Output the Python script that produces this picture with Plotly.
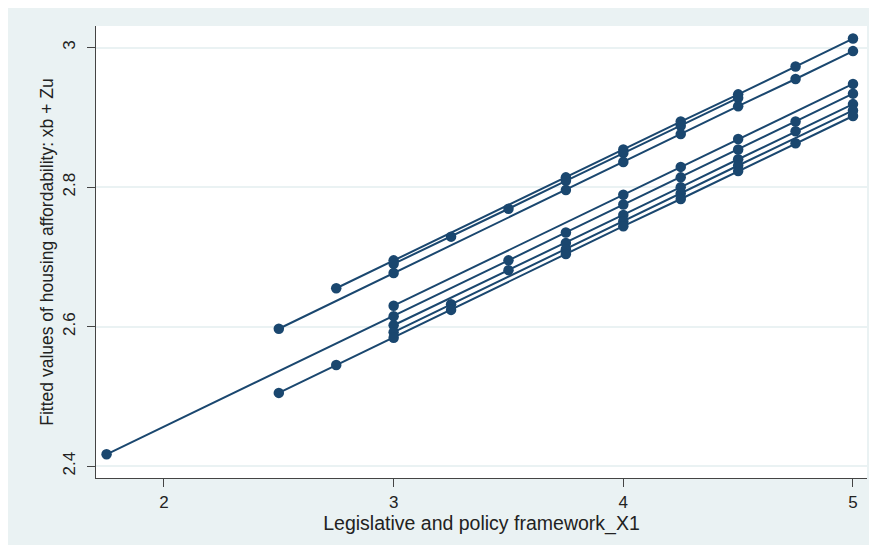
import plotly.graph_objects as go

# Fitted values per group (x = Legislative and policy framework_X1)
grp_a_x = [2.75, 3, 3.75, 4, 4.25, 4.5, 4.75, 5]
grp_a_y = [2.655, 2.695, 2.814, 2.854, 2.894, 2.933, 2.973, 3.013]

grp_b_x = [3, 3.25, 3.5, 3.75, 4, 4.25, 4.5]
grp_b_y = [2.690, 2.729, 2.769, 2.809, 2.849, 2.888, 2.928]

grp_c_x = [2.5, 3, 3.75, 4, 4.25, 4.5, 4.75, 5]
grp_c_y = [2.597, 2.677, 2.796, 2.836, 2.876, 2.916, 2.955, 2.995]

grp_d_x = [1.75, 3, 3.5, 3.75, 4, 4.25, 4.5, 4.75, 5]
grp_d_y = [2.417, 2.615, 2.695, 2.735, 2.775, 2.814, 2.854, 2.894, 2.934]

grp_e_x = [3, 4, 4.25, 4.5, 5]
grp_e_y = [2.630, 2.789, 2.829, 2.869, 2.948]

grp_f_x = [3, 3.5, 3.75, 4, 4.25, 4.5, 4.75, 5]
grp_f_y = [2.602, 2.681, 2.720, 2.760, 2.800, 2.840, 2.880, 2.919]

grp_g_x = [3, 3.25, 3.75, 4, 4.25, 4.5, 5]
grp_g_y = [2.592, 2.632, 2.711, 2.751, 2.791, 2.831, 2.910]

grp_h_x = [2.5, 2.75, 3, 3.25, 3.75, 4, 4.25, 4.5, 4.75, 5]
grp_h_y = [2.505, 2.545, 2.584, 2.624, 2.704, 2.744, 2.783, 2.823, 2.863, 2.902]

groups = [
    (grp_a_x, grp_a_y), (grp_b_x, grp_b_y), (grp_c_x, grp_c_y),
    (grp_d_x, grp_d_y), (grp_e_x, grp_e_y), (grp_f_x, grp_f_y),
    (grp_g_x, grp_g_y), (grp_h_x, grp_h_y),
]

x_ticks = [2, 3, 4, 5]
y_ticks = [2.4, 2.6, 2.8, 3.0]
y_tick_text = ["2.4", "2.6", "2.8", "3"]

navy = "#1A476F"
bg = "#EAF2F3"
font_family = "Liberation Sans, Arial, sans-serif"

fig = go.Figure()
for gx, gy in groups:
    fig.add_trace(go.Scatter(
        x=gx, y=gy, mode="lines+markers",
        line=dict(color=navy, width=2),
        marker=dict(color=navy, size=10.5),
        showlegend=False, hoverinfo="x+y",
    ))

fig.update_layout(
    width=877, height=545,
    paper_bgcolor=bg, plot_bgcolor="white",
    margin=dict(l=88, r=18, t=18, b=75),
    font=dict(family=font_family, color="#222222", size=16),
    xaxis=dict(
        range=[1.704, 5.061], tickvals=x_ticks, ticktext=[str(v) for v in x_ticks],
        showgrid=False, zeroline=False, showline=True, linecolor="#444444", linewidth=1.3,
        ticks="outside", ticklen=8, tickcolor="#444444", tickwidth=1.3,
        tickfont=dict(size=17),
        title=dict(text="Legislative and policy framework_X1", font=dict(size=19.5), standoff=0),
    ),
    yaxis=dict(
        range=[2.383, 3.031], tickvals=y_ticks, ticktext=y_tick_text,
        showgrid=True, gridcolor=bg, gridwidth=1.5,
        zeroline=False, showline=True, linecolor="#444444", linewidth=1.3,
        ticks="outside", ticklen=8, tickcolor="#444444", tickwidth=1.3,
        tickangle=-90, tickfont=dict(size=17), ticklabelstandoff=5,
        title=dict(text="Fitted values of housing affordability: xb + Zu", font=dict(size=17.5), standoff=1),
    ),
)

fig.write_html("out.html")
